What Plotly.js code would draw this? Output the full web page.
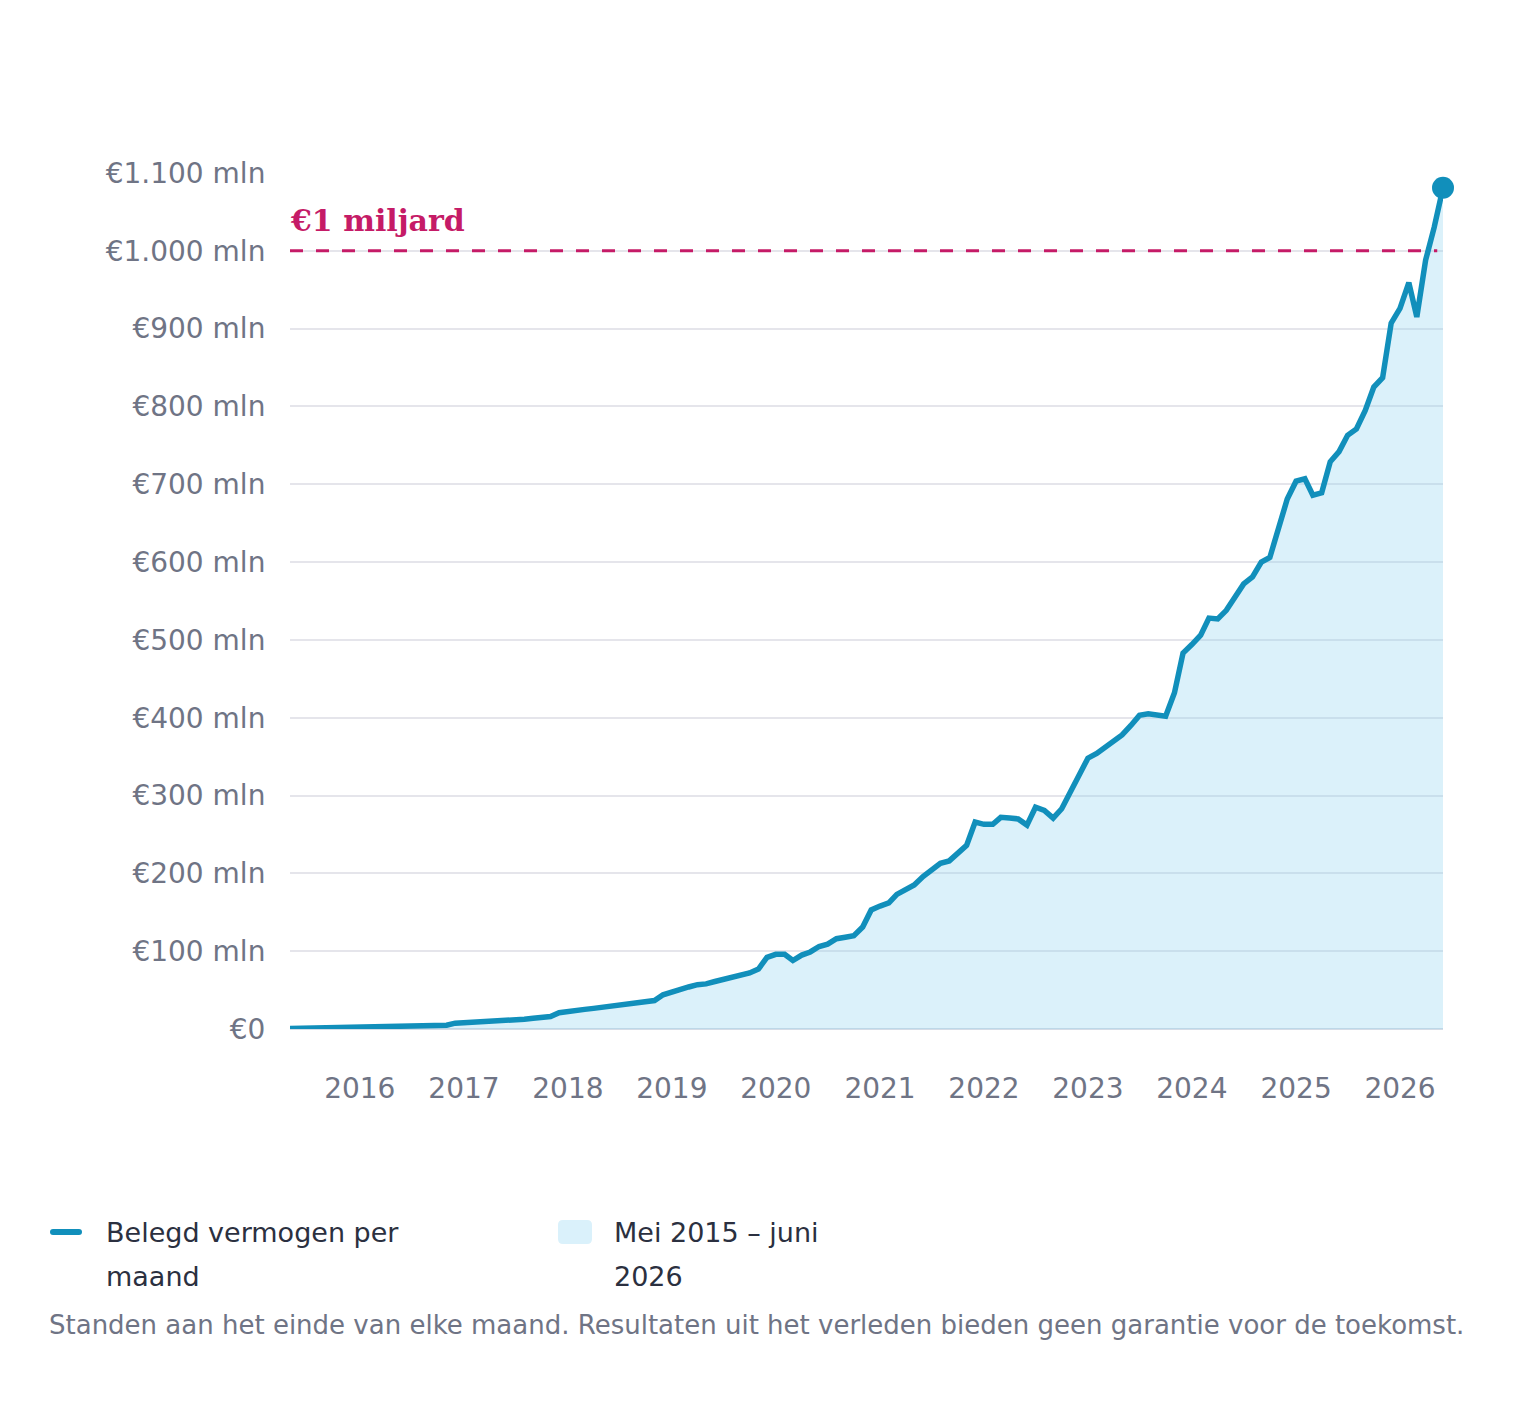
<!DOCTYPE html>
<html>
<head>
<meta charset="utf-8">
<script src="https://cdn.plot.ly/plotly-3.0.1.min.js"></script>
<style>
html,body{margin:0;padding:0;background:#fff;}
#chart{width:1536px;height:1412px;}
</style>
</head>
<body>
<div id="chart"></div>
<script>
// Monthly invested assets (mln euro), May 2015 – June 2026
const startMonth = [2015, 5];
const values = [
  0.5, 0.7, 0.9, 1.1, 1.3, 1.5, 1.7, 2.5, 2.8, 3.0,
  3.1, 3.3, 3.5, 3.7, 3.9, 4.1, 4.3, 4.5, 4.8, 7.5,
  8.0, 8.8, 9.5, 10.0, 10.3, 10.6, 11.5, 12.5, 13.8, 14.8,
  16, 21, 23, 24.5, 25.2, 26.5, 28, 29.5, 31, 32.2,
  33.5, 34.3, 36.5, 44, 48, 51, 54, 57, 58, 61,
  64, 66, 69, 72, 77, 92, 96, 96, 88, 95,
  99, 106, 109, 116, 118, 120, 131, 153, 158, 162,
  173, 179, 185, 196, 204, 213, 216, 227, 236, 266,
  263, 263, 272, 271, 270, 262, 285, 281, 271, 283,
  305, 324, 348, 354, 362, 370, 378, 390, 403, 405,
  404, 402, 432, 483, 494, 506, 528, 527, 538, 555,
  572, 581, 600, 606, 644, 681, 704, 707, 686, 689,
  729, 742, 763, 771, 795, 825, 837, 907, 926, 959,
  915, 988, 1030, 1081
];
const yTickVals = [0, 100, 200, 300, 400, 500, 600, 700, 800, 900, 1000, 1100];
const yTickText = ['€0', '€100 mln', '€200 mln', '€300 mln', '€400 mln', '€500 mln',
  '€600 mln', '€700 mln', '€800 mln', '€900 mln', '€1.000 mln', '€1.100 mln'];
const milestone = 1000;
const milestoneLabel = '€1 miljard';
const lineLegend = ['Belegd vermogen per', 'maand'];
const areaLegend = ['Mei 2015 – juni', '2026'];
const footnote = 'Standen aan het einde van elke maand. Resultaten uit het verleden bieden geen garantie voor de toekomst.';

function monthDate(i) {
  const y = startMonth[0] + Math.floor((startMonth[1] - 1 + i) / 12);
  const m = ((startMonth[1] - 1 + i) % 12) + 1;
  return y + '-' + String(m).padStart(2, '0') + '-01';
}
const dates = values.map((v, i) => monthDate(i));

const LINE = '#118fbb';
const FILL_LEGEND = '#daf1fb';
const MAGENTA = '#c51b67';
const GRAY = '#6f7485';
const DARK = '#2b3040';
const FONT = '"DejaVu Sans", sans-serif';
const WEIGHT = 400;

// layout geometry (pixels)
const W = 1536, H = 1412;
const M = {l: 290, r: 93, t: 173, b: 383};
const PW = W - M.l - M.r, PH = H - M.t - M.b;
const px = x => (x - M.l) / PW;            // pixel -> paper x
const py = y => (H - M.b - y) / PH;        // pixel -> paper y

function roundRect(x0, y0, x1, y1, r) {
  const X = v => px(v), Y = v => py(v);
  return 'M' + X(x0 + r) + ',' + Y(y0) +
    ' L' + X(x1 - r) + ',' + Y(y0) +
    ' Q' + X(x1) + ',' + Y(y0) + ' ' + X(x1) + ',' + Y(y0 + r) +
    ' L' + X(x1) + ',' + Y(y1 - r) +
    ' Q' + X(x1) + ',' + Y(y1) + ' ' + X(x1 - r) + ',' + Y(y1) +
    ' L' + X(x0 + r) + ',' + Y(y1) +
    ' Q' + X(x0) + ',' + Y(y1) + ' ' + X(x0) + ',' + Y(y1 - r) +
    ' L' + X(x0) + ',' + Y(y0 + r) +
    ' Q' + X(x0) + ',' + Y(y0) + ' ' + X(x0 + r) + ',' + Y(y0) + ' Z';
}

const traces = [
  {
    x: dates, y: values, type: 'scatter', mode: 'none',
    fill: 'tozeroy', fillcolor: 'rgba(135,207,240,0.3)',
    name: areaLegend.join(' '), hoverinfo: 'skip'
  },
  {
    x: dates, y: values, type: 'scatter', mode: 'lines',
    line: {color: LINE, width: 5.5, shape: 'linear'},
    name: lineLegend.join(' ')
  },
  {
    x: [dates[dates.length - 1]], y: [values[values.length - 1]],
    type: 'scatter', mode: 'markers',
    marker: {color: LINE, size: 22},
    cliponaxis: false
  }
];

function textAnn(x, y, text, size, color, anchor) {
  return {
    xref: 'paper', yref: 'paper', x: px(x), y: py(y),
    xanchor: anchor || 'left', yanchor: 'middle',
    text: text, showarrow: false,
    font: {family: FONT, size: size, color: color, weight: WEIGHT}
  };
}

const layout = {
  width: W, height: H,
  margin: M,
  paper_bgcolor: '#fff', plot_bgcolor: '#fff',
  font: {family: FONT, color: GRAY, weight: WEIGHT},
  showlegend: false,
  xaxis: {
    type: 'date',
    range: [dates[0], dates[dates.length - 1]],
    tick0: '2016-01-01', dtick: 'M12', tickformat: '%Y',
    showgrid: false, zeroline: false, showline: false,
    ticks: 'outside', ticklen: 34, tickcolor: 'rgba(0,0,0,0)',
    tickfont: {family: FONT, size: 28, color: GRAY, weight: WEIGHT},
    fixedrange: true
  },
  yaxis: {
    range: [0, 1100],
    tickvals: yTickVals, ticktext: yTickText,
    showgrid: true, gridcolor: '#e5e5eb', gridwidth: 2,
    zeroline: true, zerolinecolor: '#d5dce6', zerolinewidth: 2,
    showline: false,
    ticks: 'outside', ticklen: 18, tickcolor: 'rgba(0,0,0,0)',
    tickfont: {family: FONT, size: 28, color: GRAY, weight: WEIGHT},
    fixedrange: true
  },
  shapes: [
    {
      type: 'line', xref: 'paper', yref: 'y',
      x0: 0, x1: 0.995, y0: milestone, y1: milestone,
      line: {color: MAGENTA, width: 3, dash: '13px,13px'},
      layer: 'above'
    },
    {
      type: 'path', xref: 'paper', yref: 'paper',
      path: roundRect(50, 1229, 82, 1235, 3),
      fillcolor: LINE, line: {width: 0}
    },
    {
      type: 'path', xref: 'paper', yref: 'paper',
      path: roundRect(558, 1220, 592, 1244, 5),
      fillcolor: FILL_LEGEND, line: {width: 0}
    }
  ],
  annotations: [
    {
      xref: 'paper', yref: 'y', x: 0, y: milestone,
      xanchor: 'left', yanchor: 'bottom', yshift: 11, xshift: -2,
      text: '<b>' + milestoneLabel + '</b>', showarrow: false,
      font: {family: '"DejaVu Serif", serif', size: 30, color: MAGENTA}
    },
    textAnn(104, 1232, lineLegend[0], 27, DARK),
    textAnn(104, 1276, lineLegend[1], 27, DARK),
    textAnn(612, 1232, areaLegend[0], 27, DARK),
    textAnn(612, 1276, areaLegend[1], 27, DARK),
    textAnn(47, 1325, footnote, 26, GRAY)
  ]
};

Plotly.newPlot('chart', traces, layout, {displayModeBar: false, staticPlot: true});
</script>
</body>
</html>
